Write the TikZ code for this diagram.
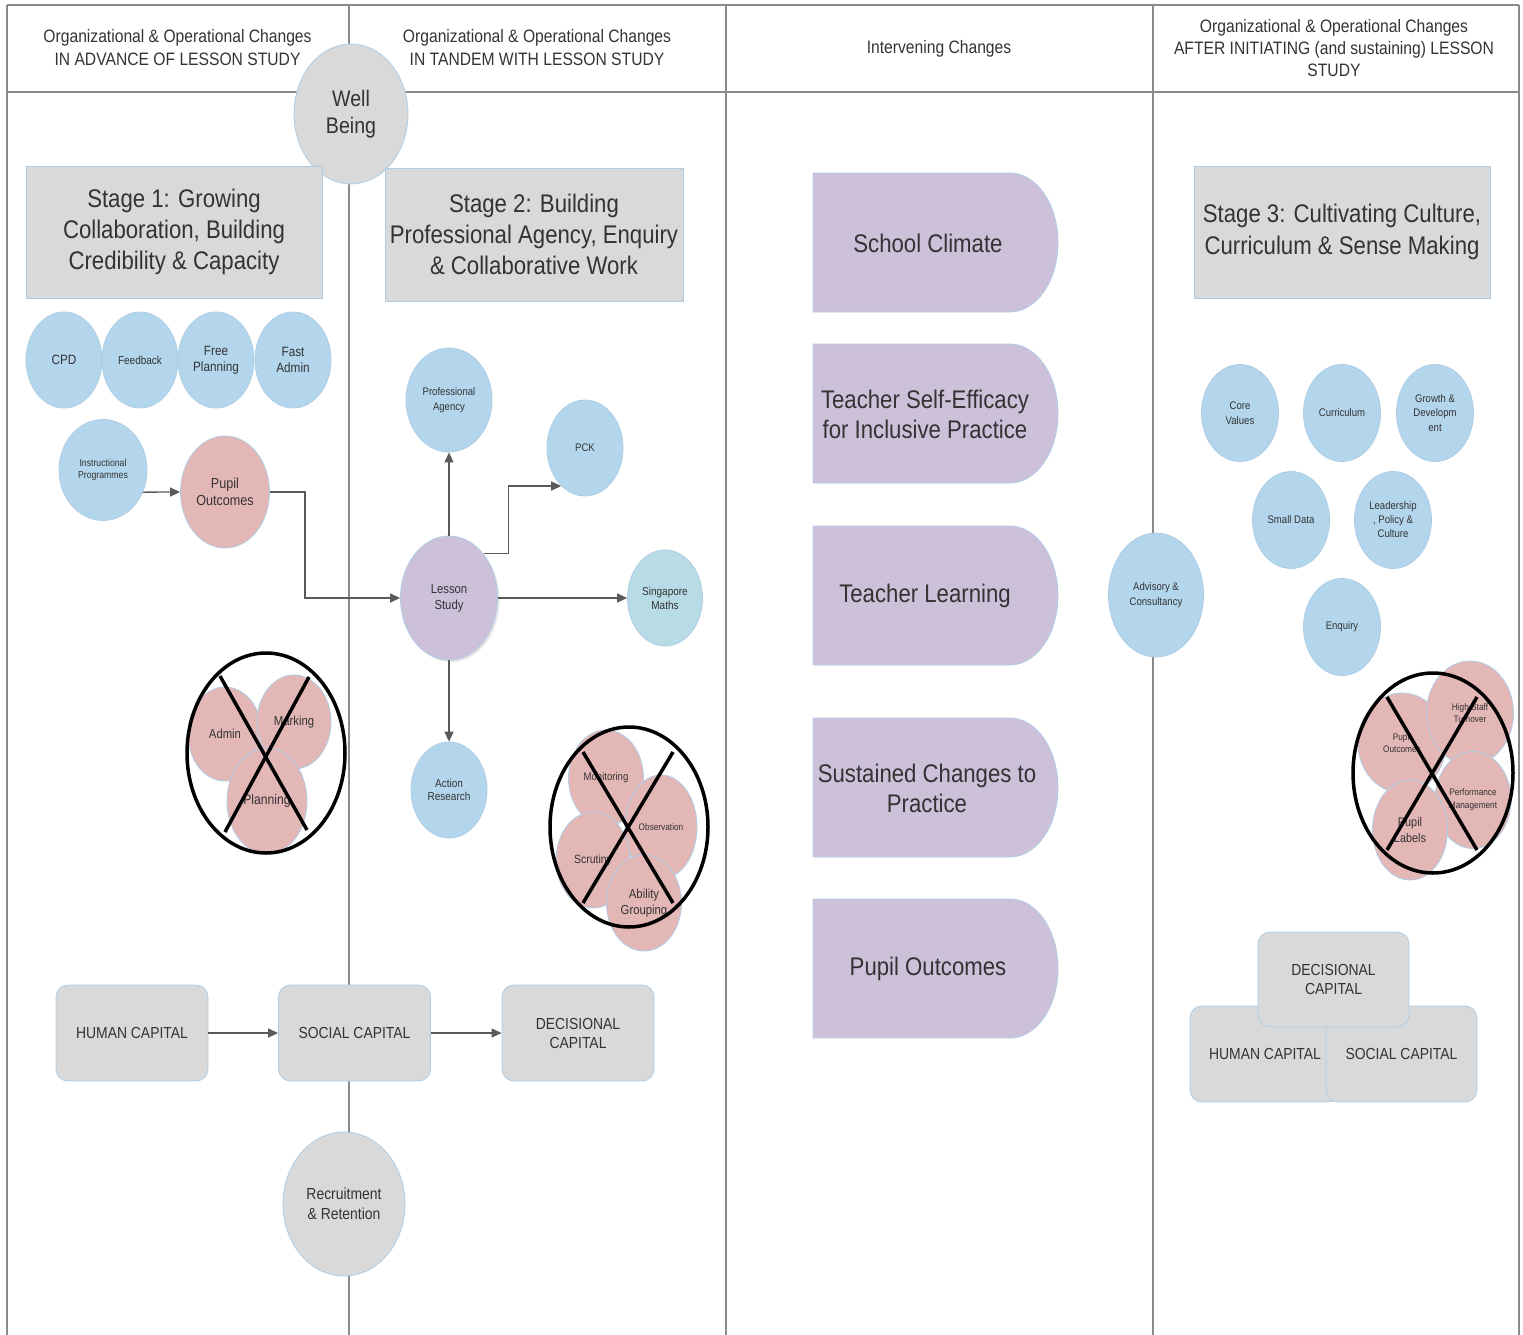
\documentclass[tikz,border=0pt]{standalone}
\usepackage{fontspec}
\setmainfont{Liberation Sans}[FakeStretch=0.87]
\usetikzlibrary{shapes.geometric,arrows.meta,shadows,calc}

\definecolor{cblue}{HTML}{B3D6ED}
\definecolor{cteal}{HTML}{B8DCE6}
\definecolor{cpink}{HTML}{E4B7B7}
\definecolor{cgray}{HTML}{D9D9D9}
\definecolor{cpurple}{HTML}{CDC1DA}
\definecolor{cedge}{HTML}{AECDE5}
\definecolor{ctext}{HTML}{333333}
\definecolor{cline}{HTML}{8A8A8A}
\definecolor{carrow}{HTML}{5A5A5A}

\newcommand\fsz[2]{\fontsize{#1}{#2}\selectfont}

\begin{document}
\begin{tikzpicture}[x=1pt,y=-1pt,
  bub/.style={ellipse, draw=cedge, line width=0.8pt, inner sep=0pt, align=center, text=ctext},
  dims/.style 2 args={minimum width=#1pt, minimum height=#2pt},
  sky/.style={bub, fill=cblue},
  rose/.style={bub, fill=cpink},
  stone/.style={bub, fill=cgray},
  stagebox/.style={rectangle, draw=cedge, line width=0.8pt, fill=cgray, inner sep=0pt,
    align=center, text=ctext, font=\fsz{25.5}{31}},
  capbox/.style={rectangle, rounded corners=12pt, draw=cedge, line width=0.8pt, fill=cgray,
    inner sep=0pt, align=center, text=ctext, minimum width=152pt, minimum height=96pt,
    font=\fsz{16}{19}},
  ring/.style={ellipse, draw=black, line width=3.5pt, inner sep=0pt},
  cross/.style={draw=black, line width=3.5pt},
  arr/.style={draw=carrow, line width=1.3pt, -{Triangle[length=10pt,width=9pt]}},
  grid/.style={draw=cline, line width=1.4pt},
  delay/.style={fill=cpurple, draw=cedge, line width=0.8pt},
  ptext/.style={align=center, text=ctext, font=\fsz{25.5}{30}},
  hdr/.style={align=center, text=ctext, font=\fsz{18}{23}}
]
\useasboundingbox (0,0) rectangle (1523,1335);

% table frame and column dividers
\draw[grid] (7,5) -- (1519,5);
\draw[grid] (7,92) -- (1519,92);
\foreach \x in {7,349,726,1153,1519} \draw[grid] (\x,5) -- (\x,1335);

% column headings
\node[hdr] (hadv) at (177.5,47.5) {Organizational \& Operational Changes\\IN ADVANCE OF LESSON STUDY};
\node[hdr] (htan) at (537,47.5) {Organizational \& Operational Changes\\IN TANDEM WITH LESSON STUDY};
\node[hdr] (hint) at (939,49) {Intervening Changes};
\node[hdr, font=\fsz{18}{22}] (haft) at (1334,48) {Organizational \& Operational Changes\\AFTER INITIATING (and sustaining) LESSON\\STUDY};

% well being
\node[stone, dims={114}{140}, font=\fsz{22.5}{27}] (well) at (351,114) {Well\\Being};

% stage boxes
\node[stagebox, minimum width=296pt, minimum height=132pt] (st1) at (174,232) {Stage 1: Growing\\Collaboration, Building\\Credibility \& Capacity};
\node[stagebox, minimum width=298pt, minimum height=133pt] (st2) at (534,234.5) {Stage 2: Building\\Professional Agency, Enquiry\\\& Collaborative Work};
\node[stagebox, minimum width=296pt, minimum height=132pt, font=\fsz{25.5}{32}] (st3) at (1342,232) {Stage 3: Cultivating Culture,\\Curriculum \& Sense Making};

% stage 1 elements
\node[sky, dims={76}{96}, font=\fsz{13.5}{16}] (cpd) at (64,360) {CPD};
\node[sky, dims={76}{96}, font=\fsz{11.5}{14}] (fb) at (140,360) {Feedback};
\node[sky, dims={76}{96}, font=\fsz{13.5}{16}] (freep) at (216,360) {Free\\Planning};
\node[sky, dims={76}{96}, font=\fsz{13.5}{16}] (fast) at (293,360) {Fast\\Admin};
\node[sky, dims={88}{101}, font=\fsz{10}{12}] (instr) at (103,470) {Instructional\\Programmes};
\node[rose, dims={89}{112}, font=\fsz{14.5}{17}] (pupil) at (225,492) {Pupil\\Outcomes};

\node[rose, dims={74}{94}, font=\fsz{13}{15}] (admin) at (225,734) {Admin};
\node[rose, dims={74}{94}, font=\fsz{13}{15}] (marking) at (294,722) {Marking};
\node[rose, dims={80}{106}, font=\fsz{14}{16}] (planning) at (267,801) {Planning};
\node[ring, dims={158}{200}] (ring1) at (266,753) {};
\coordinate (x1a) at (220,676); \coordinate (x1b) at (307,830);
\coordinate (x1c) at (225,832); \coordinate (x1d) at (309,677);
\draw[cross] (x1a) -- (x1b);
\draw[cross] (x1c) -- (x1d);

% stage 2 elements
\node[sky, dims={86}{104}, font=\fsz{11}{15}] (agency) at (449,400) {Professional\\Agency};
\node[sky, dims={76}{96}, font=\fsz{11}{13}] (pck) at (585,448) {PCK};
\node[bub, fill=cpurple, dims={97}{124}, font=\fsz{13}{16},
  drop shadow={shadow xshift=2pt, shadow yshift=-2pt, opacity=0.2}] (lesson) at (449,598) {Lesson\\Study};
\node[bub, fill=cteal, dims={75}{96}, font=\fsz{11.5}{14}] (sing) at (665,598) {Singapore\\Maths};
\node[sky, dims={76}{96}, font=\fsz{11.5}{13}] (action) at (449,790) {Action\\Research};

\node[rose, dims={75}{96}, font=\fsz{11}{13}] (monit) at (606,778) {Monitoring};
\node[rose, dims={72}{104}, font=\fsz{9.5}{12}] (observ) at (661,827) {Observation};
\node[rose, dims={74}{96}, font=\fsz{12}{14}] (scrut) at (593,860) {Scrutiny};
\node[rose, dims={75}{96}, font=\fsz{13}{16}] (ability) at (644,903) {Ability\\Grouping};
\node[ring, dims={158}{200}] (ring2) at (629,827) {};
\coordinate (x2a) at (583,752); \coordinate (x2b) at (673,903);
\coordinate (x2c) at (583,903); \coordinate (x2d) at (673,752);
\draw[cross] (x2a) -- (x2b);
\draw[cross] (x2c) -- (x2d);

% connectors around lesson study
\draw[arr] (instr.-29) -- (pupil.west);
\draw[arr] (pupil.east) -- ++(35,0) |- (lesson.west);
\draw[arr] (lesson.north) -- (agency.south);
\draw[arr] (lesson.52) -- ++(25,0) |- (pck.-122);
\draw[arr] (lesson.east) -- (sing.west);
\draw[arr] (lesson.south) -- (action.north);

% intervening changes
\foreach \t in {173,344,526,718,899}
  \path[delay] (813,\t) -- (1010,\t)
    arc[start angle=90, end angle=-90, x radius=48pt, y radius=69.5pt]
    -- (813,\t+139) -- cycle;
\node[ptext] (climate) at (928,243) {School Climate};
\node[ptext] (efficacy) at (925,414) {Teacher Self-Efficacy\\for Inclusive Practice};
\node[ptext] (tlearn) at (925,596) {Teacher Learning};
\node[ptext] (sustain) at (927,788) {Sustained Changes to\\Practice};
\node[ptext] (pout2) at (928,969) {Pupil Outcomes};

% stage 3 elements
\node[sky, dims={95}{124}, font=\fsz{11}{15}] (advis) at (1156,595) {Advisory \&\\Consultancy};
\node[sky, dims={77}{97}, font=\fsz{11}{14.5}] (core) at (1240,413) {Core\\Values};
\node[sky, dims={77}{97}, font=\fsz{11}{14.5}] (curric) at (1342,413) {Curriculum};
\node[sky, dims={77}{97}, font=\fsz{11}{14.5}] (growth) at (1435,413) {Growth \&\\Developm\\ent};
\node[sky, dims={77}{97}, font=\fsz{11}{14.5}] (small) at (1291,520) {Small Data};
\node[sky, dims={77}{97}, font=\fsz{11}{14}] (lead) at (1393,520) {Leadership\\, Policy \&\\Culture};
\node[sky, dims={77}{97}, font=\fsz{11}{14.5}] (enq) at (1342,627) {Enquiry};

\node[rose, dims={88}{100}, font=\fsz{9.5}{12}] (pout) at (1402,743) {Pupil\\Outcomes};
\node[rose, dims={87}{104}, font=\fsz{9.5}{12}] (staff) at (1470,713) {High Staff\\Turnover};
\node[rose, dims={76}{97}, font=\fsz{9.5}{13}] (perf) at (1473,800) {Performance\\Management};
\node[rose, dims={75}{100}, font=\fsz{12.5}{16}] (labels) at (1410,830) {Pupil\\Labels};
\node[ring, dims={160}{200}] (ring3) at (1433,773) {};
\coordinate (x3a) at (1387,697); \coordinate (x3b) at (1477,850);
\coordinate (x3c) at (1387,850); \coordinate (x3d) at (1477,697);
\draw[cross] (x3a) -- (x3b);
\draw[cross] (x3c) -- (x3d);

% capitals, sequence
\node[capbox] (human) at (132,1033) {HUMAN CAPITAL};
\node[capbox] (social) at (354.5,1033) {SOCIAL CAPITAL};
\node[capbox] (decis) at (578,1033) {DECISIONAL\\CAPITAL};
\draw[arr] (human) -- (social);
\draw[arr] (social) -- (decis);
\node[stone, dims={122}{144}, font=\fsz{16}{20}] (recruit) at (344,1204) {Recruitment\\\& Retention};

% capitals, combined
\node[capbox, minimum width=150pt] (human2) at (1265,1054) {HUMAN CAPITAL};
\node[capbox, minimum width=151pt] (social2) at (1401.5,1054) {SOCIAL CAPITAL};
\node[capbox, minimum width=151pt, minimum height=95pt] (decis2) at (1333.5,979.5) {DECISIONAL\\CAPITAL};

\end{tikzpicture}
\end{document}
